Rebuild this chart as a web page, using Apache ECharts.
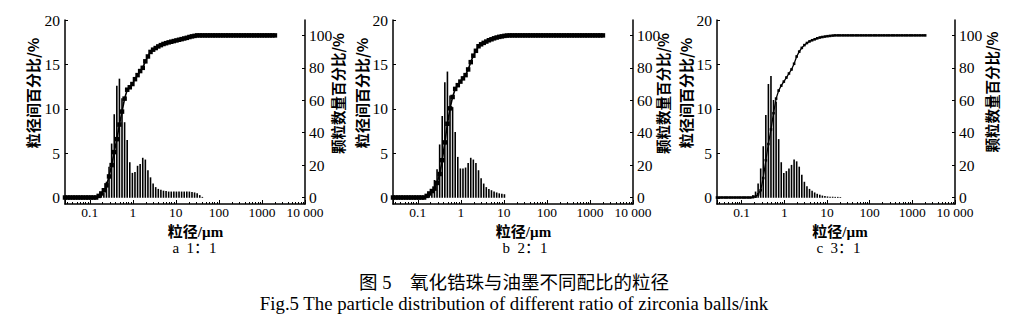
<!DOCTYPE html>
<html><head><meta charset="utf-8">
<script src="https://cdn.jsdelivr.net/npm/echarts@6/dist/echarts.min.js"></script>
<style>html,body{margin:0;padding:0;background:#fff}#c{width:1019px;height:326px}</style>
</head><body><div id="c"></div>
<script>
// particle size channels (µm)
const sizes = [0.026567,0.030518,0.035055,0.040268,0.046256,0.053134,0.061035,0.070111,0.080536,0.092511,
0.10627,0.12207,0.14022,0.16107,0.18502,0.21254,0.24414,0.28045,0.32214,0.37004,
0.42507,0.48828,0.5609,0.64428,0.74009,0.85014,0.97656,1.1218,1.2886,1.4802,
1.7003,1.9531,2.2436,2.5771,2.9604,3.4006,3.9063,4.487,5.154,5.921,
6.801,7.8125,8.974,10.309,11.842,13.602,15.625,17.948,20.617,23.683,
27.205,31.25,35.897,41.234,47.366,54.409,62.5,71.794,82.469,94.732,
108.82,125,143.59,164.94,189.46,217.64,250,287.17,329.88,378.93,
435.28,500,574.35,659.75,757.86,870.55,1000,1148.7,1319.5,1515.7,
1741.1,2000];

// a 1:1
const aFreq = [0,0,0,0,0,0,0,0,0,0, 0,0,0,0.15,0.35,0.6,1.8,3.5,6.1,9.4,
12.6,13.4,11.2,8.5,6.5,4.0,2.8,2.9,3.6,3.8, 4.5,4.3,3.1,2.3,1.6,1.2,1.0,0.9,0.8,0.75,
0.7,0.7,0.7,0.7,0.7,0.7,0.7,0.7,0.7,0.65, 0.6,0.5,0.3,0.1,0,0,0,0,0,0,
0,0,0,0,0,0,0,0,0,0, 0,0,0,0,0,0,0,0,0,0, 0,0];
const aCum = [0,0,0,0,0,0,0,0,0,0, 0,0,0,1,2.5,4.5,7.5,13,20,28,
36,45,53,61,66.5,68,70,73,75.5,78, 80,84,87,89.8,91.2,92.2,93.2,94,94.7,95.2,
95.7,96.1,96.5,96.9,97.3,97.7,98.1,98.5,99,99.4, 99.7,100,100,100,100,100,100,100,100,100,
100,100,100,100,100,100,100,100,100,100, 100,100,100,100,100,100,100,100,100,100, 100,100];

// b 2:1
const bFreq = [0,0,0,0,0,0,0,0,0,0, 0,0,0,0.2,0.5,1.0,2.0,3.2,6.0,9.2,
13.0,14.2,11.5,10.2,7.4,4.6,3.3,3.3,3.4,3.9, 4.5,4.3,3.9,3.1,2.2,1.6,1.2,1.0,0.85,0.7,
0.6,0.5,0.45,0.4,0,0,0,0,0,0, 0,0,0,0,0,0,0,0,0,0,
0,0,0,0,0,0,0,0,0,0, 0,0,0,0,0,0,0,0,0,0, 0,0];
const bCum = [0,0,0,0,0,0,0,0,0,0, 0,0,0,1,2.5,4,5.5,9,14.5,23,
34,45.5,55,62,67,69.3,71.5,73.5,75.5,79, 83.5,87.5,90.5,93.3,94.5,95.4,96.2,97,97.6,98.2,
98.7,99.1,99.4,99.7,99.9,100,100,100,100,100, 100,100,100,100,100,100,100,100,100,100,
100,100,100,100,100,100,100,100,100,100, 100,100,100,100,100,100,100,100,100,100, 100,100];

// c 3:1
const cFreq = [0,0,0,0,0,0,0,0,0,0, 0,0,0,0,0.3,0.7,1.6,3.3,5.8,9.3,
12.8,13.7,11.0,10.8,6.6,4.0,2.8,3.0,3.3,3.7, 4.3,4.1,3.5,2.6,1.8,1.3,1.0,0.8,0.6,0.45,
0.35,0.25,0.2,0.15,0.12,0.12,0.1,0.1,0.08,0, 0,0,0,0,0,0,0,0,0,0,
0,0,0,0,0,0,0,0,0,0, 0,0,0,0,0,0,0,0,0,0, 0,0];
const cCum = [0,0,0,0,0,0,0,0,0,0, 0,0,0,0,0.2,0.6,2,4.5,12,23,
33,42,52,61,66,69,71.5,74,76.5,79, 82.5,87,90,92.3,94,95.3,96.3,97,97.6,98.2,
98.7,99,99.3,99.5,99.7,99.9,100,100,100,100, 100,100,100,100,100,100,100,100,100,100,
100,100,100,100,100,100,100,100,100,100, 100,100,100,100,100,100,100,100,100,100, 100,100];

const xTickValues = [0.1, 1, 10, 100, 1000, 10000];
const xTickLabels = ['0.1', '1', '10', '100', '1000', '10 000'];
const leftTicks = [0, 5, 10, 15, 20];
const rightTicks = [0, 20, 40, 60, 80, 100];
const panelTitles = ['a  1：1', 'b  2：1', 'c  3：1'];
const xName = '粒径/µm';
const leftName = '粒径间百分比/%';
const rightName = '颗粒数量百分比/%';
const caption1 = '图 5    氧化锆珠与油墨不同配比的粒径';
const caption2 = 'Fig.5 The particle distribution of different ratio of zirconia balls/ink';

[aFreq,aCum,bFreq,bCum,cFreq,cCum].forEach((a,i)=>{ if(a.length!==sizes.length) throw new Error('len '+i+' '+a.length); });

const FONT = "'Liberation Serif', 'Noto Sans CJK SC', serif";
const CJK = "'Noto Sans CJK SC', 'Liberation Serif', sans-serif";
const panels = [
  {freq:aFreq, cum:aCum, left:65, width:240, lGap:25, rx:337, ry:93.5, xPad:21, tx:194.5, sym:4.5, lw:1.6},
  {freq:bFreq, cum:bCum, left:393, width:240, lGap:19, rx:662, ry:93.5, xPad:21, tx:525, sym:4.5, lw:1.6},
  {freq:cFreq, cum:cCum, left:717, width:238, lGap:19, rx:991, ry:92, xPad:8, tx:838.5, sym:2.6, lw:1.3}
];
const pair = arr => sizes.map((s,i)=>[s, arr[i]]);

const grid=[], xAxis=[], yAxis=[], series=[], graphic=[];
panels.forEach((p,i)=>{
  grid.push({left:p.left, top:20, width:p.width, height:184});
  xAxis.push({
    type:'log', gridIndex:i, logBase:10, min:sizes[0], max:10000,
    axisLine:{show:true, onZero:false, lineStyle:{color:'#000', width:1.5}},
    axisTick:{show:true, inside:true, length:4, lineStyle:{color:'#000', width:1}},
    minorTick:{show:true, splitNumber:9, length:2, lineStyle:{color:'#000', width:1}},
    splitLine:{show:false}, minorSplitLine:{show:false},
    axisLabel:{showMinLabel:false, margin:2, color:'#000', fontSize:13.5, fontFamily:FONT,
      formatter:v=>{const k=xTickValues.findIndex(t=>Math.abs(Math.log10(v)-Math.log10(t))<0.01);return k>=0?xTickLabels[k]:'';}},
    name:xName, nameLocation:'middle', nameGap:16,
    nameTextStyle:{color:'#000', fontSize:15, fontWeight:'bold', fontFamily:FONT, padding:[0,0,0,p.xPad]}
  });
  yAxis.push({
    type:'value', gridIndex:i, position:'left', min:-0.7, max:20,
    axisLine:{show:true, lineStyle:{color:'#000', width:1.5}},
    axisTick:{show:true, inside:true, length:3, customValues:leftTicks, lineStyle:{color:'#000'}},
    axisLabel:{customValues:leftTicks, margin:5, color:'#000', fontSize:15.5, fontFamily:FONT},
    splitLine:{show:false},
    name:leftName, nameLocation:'middle', nameGap:p.lGap,
    nameTextStyle:{color:'#000', fontSize:15, fontWeight:'bold', fontFamily:CJK, padding:[0,0,0,38]}
  });
  yAxis.push({
    type:'value', gridIndex:i, position:'right', min:-4, max:109.5,
    axisLine:{show:true, lineStyle:{color:'#000', width:1.5}},
    axisTick:{show:true, inside:true, length:3, customValues:rightTicks, lineStyle:{color:'#000'}},
    axisLabel:{customValues:rightTicks, margin:4, color:'#000', fontSize:15.5, fontFamily:FONT},
    splitLine:{show:false}
  });
  series.push({
    type:'bar', xAxisIndex:i, yAxisIndex:2*i, data:pair(p.freq), barWidth:1.6,
    itemStyle:{color:'#000'}, silent:true, animation:false
  });
  series.push({
    type:'line', xAxisIndex:i, yAxisIndex:2*i+1, data:pair(p.cum),
    symbol:'rect', symbolSize:p.sym, showSymbol:true,
    lineStyle:{color:'#000', width:p.lw}, itemStyle:{color:'#000'}, z:5, silent:true, animation:false
  });
  graphic.push({type:'text', x:p.rx, y:p.ry, rotation:Math.PI/2,
    style:{text:rightName, fill:'#000', font:"bold 14.5px "+CJK, align:'center', verticalAlign:'middle'}});
  graphic.push({type:'text', x:p.tx, y:248, style:{text:panelTitles[i], fill:'#000', font:"15px "+FONT, align:'center', verticalAlign:'middle'}});
});
graphic.push({type:'text', x:514, y:283, style:{text:caption1, fill:'#000', font:"18.5px "+FONT, align:'center', verticalAlign:'middle'}});
graphic.push({type:'text', x:514, y:303, style:{text:caption2, fill:'#000', font:"18.8px "+FONT, align:'center', verticalAlign:'middle'}});

const chart = echarts.init(document.getElementById('c'), null, {renderer:'svg', width:1019, height:326});
chart.setOption({animation:false, backgroundColor:'#fff', grid, xAxis, yAxis, series, graphic});
</script></body></html>
